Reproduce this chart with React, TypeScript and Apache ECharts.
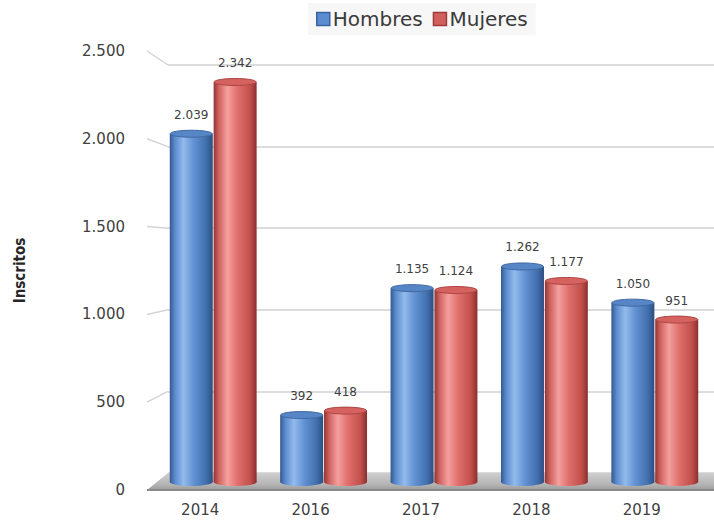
import React, { useEffect, useRef } from 'react';
import * as echarts from 'echarts';

const years = ['2014', '2016', '2017', '2018', '2019'];
const hombres = [2039, 392, 1135, 1262, 1050];
const mujeres = [2342, 418, 1124, 1177, 951];
const yTicks = [0, 500, 1000, 1500, 2000, 2500];
const seriesNames = ['Hombres', 'Mujeres'];
const yAxisTitle = 'Inscritos';

const Y_MAX = 2500;
const Y_STEP = 500;
const BAR_W = 43;
const FRONT_LEFT = 147;
const BACK_LEFT = 168;
const CHART_W = 714;

const fmt = (v: number) => String(v).replace(/\B(?=(\d{3})+(?!\d))/g, '.');

const blueGrad = () =>
  new echarts.graphic.LinearGradient(0, 0, 1, 0, [
    { offset: 0, color: '#34598c' },
    { offset: 0.12, color: '#5a8bcf' },
    { offset: 0.32, color: '#93bbec' },
    { offset: 0.55, color: '#6393d3' },
    { offset: 0.85, color: '#416fae' },
    { offset: 1, color: '#2c4d7e' },
  ]);
const redGrad = () =>
  new echarts.graphic.LinearGradient(0, 0, 1, 0, [
    { offset: 0, color: '#923432' },
    { offset: 0.12, color: '#d0625f' },
    { offset: 0.32, color: '#f4a09e' },
    { offset: 0.55, color: '#e0706d' },
    { offset: 0.85, color: '#c2504d' },
    { offset: 1, color: '#8a2f2d' },
  ]);

const palette = [
  { grad: blueGrad, cap: '#5686c6', capStroke: '#4169a3', legend: '#5b8bd0', legendBorder: '#3a62a0' },
  { grad: redGrad, cap: '#d6625f', capStroke: '#ab4744', legend: '#d0605d', legendBorder: '#9e3a38' },
];

export default function App() {
  const ref = useRef<HTMLDivElement>(null);
  useEffect(() => {
    document.body.style.margin = '0';
    if (!ref.current) return;
    const chart = echarts.init(ref.current, undefined, { renderer: 'svg' });
    const datasets = [hombres, mujeres];
    const off = BAR_W / 2 + BAR_W * 0.01;

    const barSeries: any[] = datasets.map((d, si) => ({
      name: seriesNames[si],
      type: 'bar',
      xAxisIndex: 0,
      yAxisIndex: 0,
      barWidth: BAR_W,
      barGap: '2%',
      data: d,
      itemStyle: { color: palette[si].grad() },
      label: {
        show: true,
        position: 'top',
        distance: 13,
        formatter: (p: any) => fmt(p.value),
        fontFamily: 'DejaVu Sans',
        fontSize: 12,
        color: '#404040',
      },
      z: 2,
    }));

    const capSeries: any[] = datasets.map((d, si) => ({
      name: seriesNames[si],
      type: 'custom',
      xAxisIndex: 0,
      yAxisIndex: 0,
      silent: true,
      z: 3,
      data: d.map((v, i) => [i, v]),
      renderItem: (params: any, api: any) => {
        const idx = api.value(0);
        const v = api.value(1);
        const top = api.coord([idx, v]);
        const base = api.coord([idx, 0]);
        const cx = top[0] + (si === 0 ? -off : off);
        return {
          type: 'group',
          children: [
            {
              type: 'ellipse',
              shape: { cx, cy: base[1], rx: BAR_W / 2, ry: 4 },
              style: { fill: palette[si].grad() },
            },
            {
              type: 'ellipse',
              shape: { cx, cy: top[1], rx: BAR_W / 2 - 0.5, ry: 3.5 },
              style: { fill: palette[si].cap, stroke: palette[si].capStroke, lineWidth: 1 },
            },
          ],
        };
      },
    }));

    const font = 'DejaVu Sans';
    chart.setOption({
      animation: false,
      backgroundColor: '#ffffff',
      legend: {
        left: 308,
        top: 3,
        padding: [6, 8],
        backgroundColor: '#f7f7f7',
        itemGap: 10,
        itemWidth: 13,
        itemHeight: 13,
        icon: 'rect',
        data: seriesNames.map((n, i) => ({
          name: n,
          itemStyle: { color: palette[i].legend, borderColor: palette[i].legendBorder, borderWidth: 1.5 },
        })),
        textStyle: { fontFamily: font, fontSize: 20, color: '#3a3a3a', padding: [0, 0, 0, -2] },
      },
      grid: [
        { left: 158, right: 4, top: 55, bottom: 39 },
        { left: 158, right: 4, top: 51, bottom: 31 },
        { left: BACK_LEFT, right: 0, top: 65, bottom: 48 },
      ],
      xAxis: [
        {
          type: 'category',
          gridIndex: 0,
          data: years,
          axisLine: { show: false },
          axisTick: { show: false },
          axisLabel: {
            fontFamily: font,
            fontSize: 15,
            color: '#404040',
            margin: 20,
            padding: [0, 26, 0, 0],
          },
        },
        { type: 'category', gridIndex: 1, data: years, show: false },
        { type: 'category', gridIndex: 2, data: years, show: false },
      ],
      yAxis: [
        { type: 'value', gridIndex: 0, min: 0, max: Y_MAX, interval: Y_STEP, show: false },
        {
          type: 'value',
          gridIndex: 1,
          min: 0,
          max: Y_MAX,
          interval: Y_STEP,
          axisLine: { show: false },
          axisTick: { show: false },
          splitLine: { show: false },
          axisLabel: {
            formatter: (v: number) => fmt(v),
            fontFamily: font,
            fontSize: 15,
            color: '#404040',
            margin: 33,
          },
          name: yAxisTitle,
          nameLocation: 'middle',
          nameGap: 131,
          nameTextStyle: {
            fontFamily: 'DejaVu Sans Condensed, Liberation Sans Narrow, sans-serif',
            fontWeight: 'bold',
            fontSize: 15,
            color: '#262626',
          },
        },
        {
          type: 'value',
          gridIndex: 2,
          min: 0,
          max: Y_MAX,
          interval: Y_STEP,
          axisLine: { show: false },
          axisTick: { show: false },
          axisLabel: { show: false },
          splitLine: { show: true, lineStyle: { color: '#dcdcdc', width: 2 } },
        },
      ],
      series: [...barSeries, ...capSeries],
    });

    const ly = (v: number) => chart.convertToPixel({ yAxisIndex: 1 }, v) as number;
    const gy = (v: number) => chart.convertToPixel({ yAxisIndex: 2 }, v) as number;
    const graphics: any[] = yTicks
      .filter((v) => v > 0)
      .map((v) => ({
        type: 'line',
        z: 1,
        silent: true,
        shape: { x1: FRONT_LEFT, y1: ly(v), x2: BACK_LEFT, y2: gy(v) },
        style: { stroke: '#d4d4d4', lineWidth: 1.5 },
      }));
    const f0 = ly(0);
    const b0 = gy(0);
    graphics.push({
      type: 'polygon',
      z: 1,
      silent: true,
      shape: { points: [[FRONT_LEFT, f0], [BACK_LEFT, b0], [CHART_W, b0], [CHART_W, f0]] },
      style: {
        fill: new echarts.graphic.LinearGradient(0, 0, 0, 1, [
          { offset: 0, color: '#cfcfcf' },
          { offset: 0.7, color: '#b3b3b3' },
          { offset: 1, color: '#9a9a9a' },
        ]),
      },
    });
    graphics.push({
      type: 'line',
      z: 1,
      silent: true,
      shape: { x1: FRONT_LEFT, y1: f0, x2: CHART_W, y2: f0 },
      style: { stroke: '#8a8a8a', lineWidth: 2 },
    });
    chart.setOption({ graphic: graphics });

    return () => chart.dispose();
  }, []);
  return <div ref={ref} style={{ width: 714, height: 521 }} />;
}
